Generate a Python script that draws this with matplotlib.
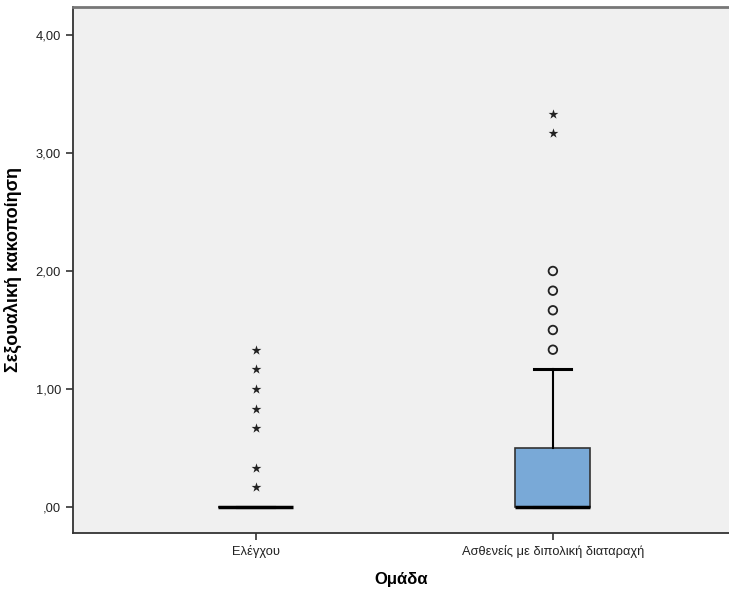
import matplotlib.pyplot as plt

plt.rcParams['font.family'] = ['Liberation Sans', 'DejaVu Sans']

# Group labels and box statistics
groups = ['Ελέγχου', 'Ασθενείς με διπολική διαταραχή']
q1 = [0.0, 0.0]
median = [0.0, 0.0]
q3 = [0.0, 0.5]
whisker_low = [0.0, 0.0]
whisker_high = [0.0, 1.167]

# Outliers (circles) and extreme values (stars)
circles_control = []
circles_patients = [2.0, 1.833, 1.667, 1.5, 1.333]
stars_control = [1.333, 1.167, 1.0, 0.833, 0.667, 0.333, 0.167]
stars_patients = [3.333, 3.167]

yticks = [0, 1, 2, 3, 4]
ytick_labels = [',00', '1,00', '2,00', '3,00', '4,00']

fig = plt.figure(figsize=(7.29, 5.92), dpi=100)
ax = fig.add_axes([0.1001, 0.0997, 0.8999, 0.8885])
ax.set_facecolor('#f0f0f0')

stats = []
for i in range(len(groups)):
    stats.append(dict(q1=q1[i], med=median[i], q3=q3[i],
                      whislo=whisker_low[i], whishi=whisker_high[i],
                      fliers=[], label=groups[i]))

pos = [1, 2]
ax.bxp(stats, positions=pos, widths=0.253, patch_artist=True,
       showfliers=False,
       boxprops=dict(facecolor='#79a9d7', edgecolor='#333333', linewidth=1.2),
       medianprops=dict(color='black', linewidth=2.5),
       whiskerprops=dict(color='black', linewidth=1.5),
       capprops=dict(color='black', linewidth=2.2),
       capwidths=0.125)

star_sets = [stars_control, stars_patients]
circle_sets = [circles_control, circles_patients]
for p, st, ci in zip(pos, star_sets, circle_sets):
    if st:
        ax.scatter([p] * len(st), st, marker='*', s=55, color='#222222',
                   linewidths=0, zorder=3)
    if ci:
        ax.scatter([p] * len(ci), ci, marker='o', s=38, facecolor='none',
                   edgecolor='#222222', linewidths=1.3, zorder=3)

ax.set_xlim(0.384, 2.593)
ax.set_ylim(-0.22, 4.237)
ax.set_yticks(yticks)
ax.set_yticklabels(ytick_labels)
ax.set_xticks(pos)
ax.set_xticklabels(groups)
ax.tick_params(axis='both', labelsize=9.3, colors='#333333', length=5,
               width=1.2, labelcolor='#222222')

for s in ['left', 'bottom']:
    ax.spines[s].set_color('#333333')
    ax.spines[s].set_linewidth(1.3)
ax.spines['top'].set_color('#777777')
ax.spines['top'].set_linewidth(2)
ax.spines['right'].set_visible(False)

ax.set_ylabel('Σεξουαλική κακοποίηση', fontsize=13, fontweight='bold', labelpad=10)
ax.set_xlabel('Ομάδα', fontsize=12, fontweight='bold', labelpad=10)

fig.savefig('out.png', dpi=100)
